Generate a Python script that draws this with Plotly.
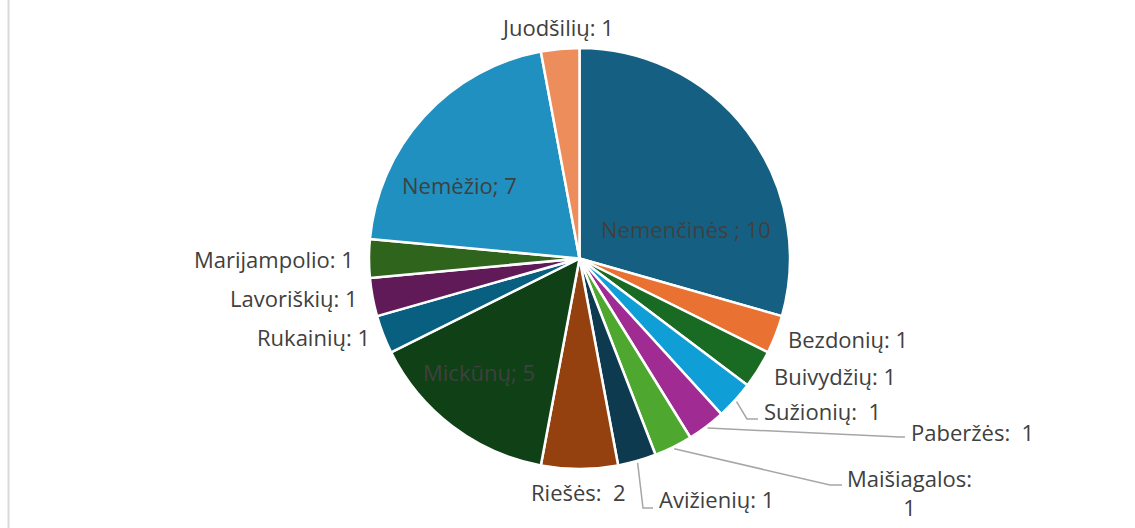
import math
import plotly.graph_objects as go

# ---- data ----
categories = ["Nemenčinės", "Bezdonių", "Buivydžių", "Sužionių", "Paberžės",
              "Maišiagalos", "Avižienių", "Riešės", "Mickūnų", "Rukainių",
              "Lavoriškių", "Marijampolio", "Nemėžio", "Juodšilių"]
values = [10, 1, 1, 1, 1, 1, 1, 2, 5, 1, 1, 1, 7, 1]
separators = [" ; ", ": ", ": ", ":  ", ":  ", ":<br>", ": ", ":  ", "; ", ": ", ": ", ": ", "; ", ": "]

# ---- style / layout ----
colors = ["#156082", "#E97132", "#196B24", "#0F9ED5", "#A02B93", "#4EA72E",
          "#0D3A4E", "#94410F", "#0F4016", "#095F80", "#601A58", "#2F641C",
          "#1F90C0", "#ED8D5B"]
W, H = 1135, 528
CX, CY, R = 579.5, 258.5, 210.5
TEXT_COLOR = "#404040"
FONT = "Open Sans"
FS = 22

# label placement in pixels: (x, y, xanchor)
label_pos = [(686, 229, "center"), (786, 339, "left"), (772, 376, "left"),
             (762, 411, "left"), (909, 432, "left"), (909, 492, "center"),
             (657, 499, "left"), (578, 492, "center"), (479, 372, "center"),
             (372, 337, "right"), (360, 298, "right"), (356, 259, "right"),
             (459, 185, "center"), (557, 27, "center")]
# leader line elbows (pixels) for labels moved away from their slices
leaders = {3: [(747, 419), (758, 419)],
           4: [(900, 437), (905, 437)],
           5: [(830, 485), (842, 485)],
           6: [(643, 508), (653, 508)]}


def px(x, y):
    return x / W, 1 - y / H


fig = go.Figure(go.Pie(
    labels=categories, values=values, sort=False, direction="clockwise",
    rotation=0, textinfo="none", hoverinfo="label+value",
    marker=dict(colors=colors, line=dict(color="white", width=2.5)),
    domain=dict(x=[(CX - R) / W, (CX + R) / W], y=[1 - (CY + R) / H, 1 - (CY - R) / H]),
    showlegend=False,
))

total = sum(values)
cum = 0
annotations = []
shapes = []
for i, (cat, val) in enumerate(zip(categories, values)):
    mid = (cum + val / 2) / total * 2 * math.pi
    cum += val
    lx, ly, anchor = label_pos[i]
    x, y = px(lx, ly)
    annotations.append(dict(x=x, y=y, xref="paper", yref="paper", xanchor=anchor,
                            yanchor="middle", showarrow=False,
                            text=f"{cat}{separators[i]}{val}",
                            font=dict(family=FONT, size=FS, color=TEXT_COLOR)))
    if i in leaders:
        sx = CX + (R + 2) * math.sin(mid)
        sy = CY - (R + 2) * math.cos(mid)
        pts = [(sx, sy)] + leaders[i]
        path = "M " + " L ".join(f"{px(a, b)[0]},{px(a, b)[1]}" for a, b in pts)
        shapes.append(dict(type="path", path=path, xref="paper", yref="paper",
                           line=dict(color="#a6a6a6", width=1.5)))

shapes.append(dict(type="line", xref="paper", yref="paper", x0=8.5 / W, x1=8.5 / W,
                   y0=0, y1=1, line=dict(color="#d9d9d9", width=2)))

fig.update_layout(width=W, height=H, margin=dict(l=0, r=0, t=0, b=0),
                  paper_bgcolor="white", plot_bgcolor="white",
                  annotations=annotations, shapes=shapes)
fig.write_html("out.html", config={"displayModeBar": False},
               post_script="document.body.style.margin='0';document.body.style.overflow='hidden';")
